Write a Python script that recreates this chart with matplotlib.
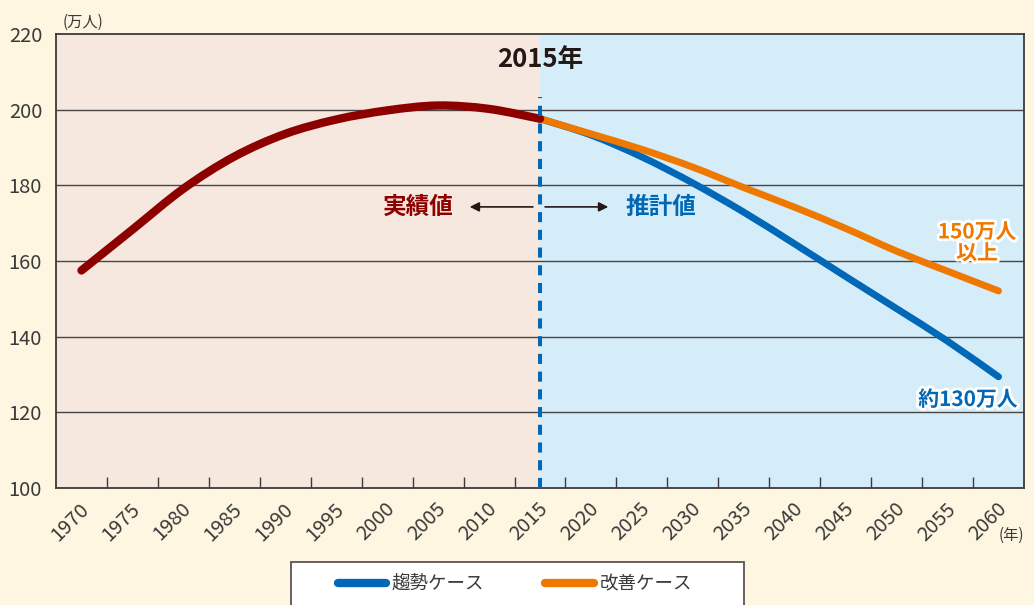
import numpy as np
import matplotlib.pyplot as plt
import matplotlib.patheffects as pe
import matplotlib.transforms as mtransforms
from matplotlib.patches import Rectangle, PathPatch
from matplotlib.path import Path
from matplotlib.lines import Line2D

plt.rcParams['font.family'] = ['Noto Sans CJK JP', 'DejaVu Sans']

# 実績値 (1970-2015)
years_actual = [1970, 1975, 1980, 1985, 1990, 1995, 2000, 2005, 2010, 2015]
vals_actual = [157.5, 168.3, 179.1, 187.6, 193.6, 197.4, 199.8, 201.1, 200.2, 197.6]

# 推計値 (2015-2060)
years_proj = [2015, 2020, 2025, 2030, 2035, 2040, 2045, 2050, 2055, 2060]
vals_trend = [197.6, 193.3, 187.5, 180.6, 172.9, 164.5, 155.9, 147.4, 138.8, 129.4]
vals_improve = [197.6, 193.6, 189.5, 184.8, 179.4, 174.2, 168.6, 162.6, 157.3, 152.1]

xtick_years = list(range(1970, 2061, 5))
yticks = [100, 120, 140, 160, 180, 200, 220]

c_red = '#8c0000'
c_blue = '#0068b7'
c_orange = '#ee7800'
c_text = '#3a3a3a'


def smooth_path(xs, ys):
    # 各点を通るベジェ曲線 (Catmull-Rom)
    p = np.column_stack([xs, ys]).astype(float)
    verts = [p[0]]
    codes = [Path.MOVETO]
    n = len(p)
    for i in range(n - 1):
        p0 = p[i - 1] if i > 0 else p[i]
        p3 = p[i + 2] if i + 2 < n else p[i + 1]
        c1 = p[i] + (p[i + 1] - p0) / 6
        c2 = p[i + 1] - (p3 - p[i]) / 6
        verts += [c1, c2, p[i + 1]]
        codes += [Path.CURVE4] * 3
    return Path(verts, codes)


def draw_curve(ax, xs, ys, color, lw, z):
    patch = PathPatch(smooth_path(xs, ys), facecolor='none', edgecolor=color,
                      lw=lw, capstyle='round', joinstyle='round', zorder=z)
    ax.add_patch(patch)


fig = plt.figure(figsize=(10.34, 6.05), dpi=100, facecolor='#fef6e0')
ax = fig.add_axes([56/1034, 1-488/605, 968/1034, 454/605])

ax.set_xlim(1967.5, 2062.5)
ax.set_ylim(100, 220)

# 背景の塗り分け
ax.axvspan(1967.5, 2015, color='#f6e7df', zorder=0, lw=0)
ax.axvspan(2015, 2062.5, color='#d5ecf9', zorder=0, lw=0)

for y in yticks[1:-1]:
    ax.axhline(y, color='#4a4545', lw=1.0, zorder=1)

draw_curve(ax, years_proj, vals_trend, c_blue, 5, 3)
draw_curve(ax, years_proj, vals_improve, c_orange, 5, 4)
draw_curve(ax, years_actual, vals_actual, c_red, 6, 5)

# 2015年の区切り線
ax.plot([2015, 2015], [100, 203.4], color=c_blue, lw=2.9,
        dashes=(2.5, 1.9), dash_capstyle='butt', zorder=6)

for s in ax.spines.values():
    s.set_color('#3e3a39')
    s.set_linewidth(1.3)

ax.set_yticks(yticks)
ax.set_yticklabels([str(v) for v in yticks], fontsize=14.5, color=c_text)
ax.tick_params(axis='y', length=0, pad=10)

ax.set_xticks(xtick_years)
ax.set_xticks(np.arange(1972.5, 2060, 5), minor=True)
ax.set_xticklabels([str(v) for v in xtick_years], rotation=45, ha='right',
                   va='center', rotation_mode='anchor', fontsize=14.5, color=c_text)
ax.tick_params(axis='x', which='major', length=0, pad=13)
ax.tick_params(axis='x', which='minor', length=8, width=1, direction='in',
               color='#3e3a39')
offset = mtransforms.ScaledTranslation(5/100, 0, fig.dpi_scale_trans)
for lab in ax.get_xticklabels():
    lab.set_transform(lab.get_transform() + offset)

fig.text(63/1034, 1-22/605, '(万人)', fontsize=11, color=c_text, va='center', ha='left')
fig.text(1011/1034, 1-535/605, '(年)', fontsize=11, color=c_text, va='center', ha='center')

ax.text(2015, 213.2, '2015年', fontsize=18.5, fontweight='bold', color='#231815',
        ha='center', va='center', zorder=7)
ax.text(2003.1, 174.3, '実績値', fontsize=17, fontweight='bold', color=c_red,
        ha='center', va='center', zorder=7)
ax.text(2026.9, 174.3, '推計値', fontsize=17, fontweight='bold', color=c_blue,
        ha='center', va='center', zorder=7)
ax.annotate('', xy=(2008.1, 174.3), xytext=(2014.3, 174.3),
            arrowprops=dict(arrowstyle='-|>', color='#231815', lw=1.2,
                            mutation_scale=14, shrinkA=0, shrinkB=0))
ax.annotate('', xy=(2021.7, 174.3), xytext=(2015.5, 174.3),
            arrowprops=dict(arrowstyle='-|>', color='#231815', lw=1.2,
                            mutation_scale=14, shrinkA=0, shrinkB=0))

outline = [pe.withStroke(linewidth=4, foreground='white')]
ax.text(2057.9, 167.7, '150万人', fontsize=15, fontweight='bold', color=c_orange,
        ha='center', va='center', zorder=7, path_effects=outline)
ax.text(2057.9, 162.1, '以上', fontsize=15, fontweight='bold', color=c_orange,
        ha='center', va='center', zorder=7, path_effects=outline)
ax.text(2057.0, 123.4, '約130万人', fontsize=15, fontweight='bold', color=c_blue,
        ha='center', va='center', zorder=7, path_effects=outline)

# 凡例の枠
fig.patches.append(Rectangle((291/1034, -0.05), 453/1034, 0.05 + 43/605,
                             transform=fig.transFigure, facecolor='white',
                             edgecolor='#5a5555', lw=1.3, zorder=0))
handles = [Line2D([], [], color=c_blue, lw=6, solid_capstyle='round'),
           Line2D([], [], color=c_orange, lw=6, solid_capstyle='round')]
leg = fig.legend(handles, ['趨勢ケース', '改善ケース'], loc='center',
                 bbox_to_anchor=(515/1034, 1-584/605), ncol=2,
                 frameon=False, fontsize=13.3, handlelength=2.6, columnspacing=3.3,
                 handletextpad=0.35)
for txt in leg.get_texts():
    txt.set_color(c_text)

fig.savefig('out.png', dpi=100, facecolor=fig.get_facecolor())
